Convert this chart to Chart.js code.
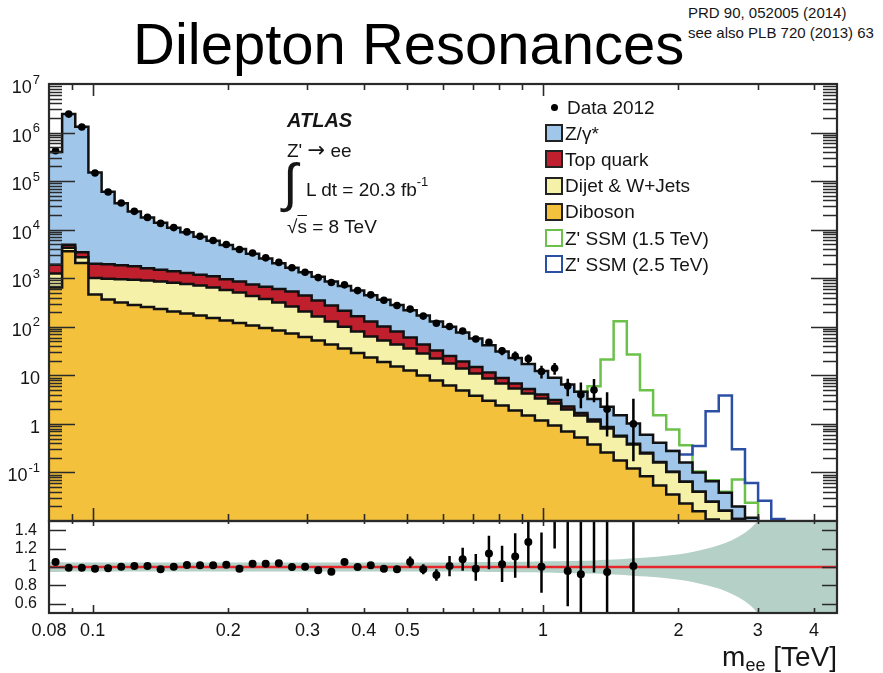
<!DOCTYPE html>
<html>
<head>
<meta charset="utf-8">
<title>Dilepton Resonances</title>
<script src="https://cdn.jsdelivr.net/npm/chart.js@4.4.1/dist/chart.umd.min.js"></script>
<style>
  html, body { margin: 0; padding: 0; background: #fff; }
  #page { position: relative; width: 883px; height: 673px; overflow: hidden;
          font-family: "Liberation Sans", Arial, Helvetica, sans-serif; color: #151515; }
  #page canvas { position: absolute; left: 0; }
  #main_chart { top: 0; }
  #ratio_chart { top: 500px; }
  .txt { position: absolute; white-space: nowrap; line-height: 1; }
  .sup { position: relative; font-size: 13px; top: -10px; }
  .sub { position: relative; font-size: 18px; top: 5px; }
  .arrow { font-family: "DejaVu Sans", sans-serif; font-size: 21px; }
  #title { left: 133px; top: 15px; font-size: 58px; color: #000; }
  #ref { left: 688px; top: 3px; font-size: 15px; line-height: 20px; }
  #atlas { left: 287px; top: 110px; font-size: 20px; font-weight: bold; font-style: italic; }
  #channel { left: 287px; top: 140px; font-size: 19px; }
  #integral { left: 283px; top: 156px; font-size: 53px; }
  #lumi { left: 306px; top: 180px; font-size: 19px; }
  #energy { left: 287px; top: 217px; font-size: 19px; }
  #x_title { right: 46px; top: 643px; font-size: 28px; }
  .leg_row { position: absolute; left: 545px; height: 20px; display: flex; align-items: center; }
  .leg_box { box-sizing: border-box; width: 18px; height: 18px; border: 2.5px solid #222; }
  .leg_mark { width: 18px; height: 18px; display: flex; align-items: center; justify-content: center; }
  .leg_mark span { width: 7px; height: 7px; border-radius: 50%; background: #000; }
  .leg_text { margin-left: 2px; font-size: 19px; line-height: 1; }
</style>
</head>
<body>
<div id="page">
  <div id="title" class="txt">Dilepton Resonances</div>
  <div id="ref" class="txt">PRD 90, 052005 (2014)<br>see also PLB 720 (2013) 63</div>
  <canvas id="main_chart" width="883" height="530"></canvas>
  <canvas id="ratio_chart" width="883" height="173"></canvas>
  <div id="atlas" class="txt">ATLAS</div>
  <div id="channel" class="txt">Z' <span class="arrow">→</span> ee</div>
  <div id="integral" class="txt">∫</div>
  <div id="lumi" class="txt">L dt = 20.3 fb<span class="sup">-1</span></div>
  <div id="energy" class="txt">√<span style="text-decoration: overline">s</span> = 8 TeV</div>
  <div id="legend"></div>
  <div id="x_title" class="txt">m<span class="sub">ee</span> [TeV]</div>
</div>
<script>
// mass binning in TeV, 60 log-uniform bins
const BIN_EDGES = [0.08, 0.08556, 0.0915, 0.09786, 0.1047, 0.1119, 0.1197, 0.128, 0.1369, 0.1464,
  0.1566, 0.1675, 0.1791, 0.1915, 0.2049, 0.2191, 0.2343, 0.2506, 0.268, 0.2866,
  0.3065, 0.3278, 0.3506, 0.3749, 0.401, 0.4288, 0.4586, 0.4904, 0.5245, 0.5609,
  0.5999, 0.6416, 0.6861, 0.7338, 0.7848, 0.8393, 0.8976, 0.9599, 1.027, 1.098,
  1.174, 1.256, 1.343, 1.436, 1.536, 1.643, 1.757, 1.879, 2.009, 2.149,
  2.298, 2.458, 2.629, 2.811, 3.006, 3.215, 3.439, 3.677, 3.933, 4.206, 4.498];

// background expectation per bin (events)
const ZGAMMA = [398000, 2415000, 1307000, 148000, 58500, 33300, 21800, 16100, 12300, 9610,
  7540, 6000, 4800, 3880, 3130, 2460, 1870, 1440, 1110, 881,
  724, 588, 477, 390, 319, 258, 202, 159, 127, 96.6,
  75, 56.7, 42.7, 30.3, 22.1, 16.1, 11.8, 8.27, 5.8, 4.18,
  2.89, 2.01, 1.40, 0.934, 0.629, 0.347, 0.246, 0.172, 0.095, 0.060,
  0.041, 0.022, 0.0089, 0.0041, 0.002, 0.001, 0, 0, 0, 0];
const TOP_QUARK = [660, 644, 695, 982, 969, 902, 823, 721, 652, 576,
  517, 481, 453, 389, 345, 311, 299, 282, 270, 233,
  184, 145, 114, 86, 65, 49, 37, 24.4, 15.0, 10.2,
  7.5, 5.4, 3.9, 2.8, 2.0, 1.43, 1.0, 0.70, 0.47, 0.30,
  0.19, 0.11, 0.059, 0.026, 0.014, 0.0071, 0.0031, 0.0014, 0.0006, 0,
  0, 0, 0, 0, 0, 0, 0, 0, 0, 0];
const DIJET_WJETS = [604, 686, 652, 554, 618, 643, 655, 639, 620, 605,
  570, 535, 490, 435, 387, 322, 278, 231, 188, 145,
  110, 85, 65, 50.8, 39.6, 33.2, 27.8, 23, 18.2, 14.4,
  11.3, 8.9, 7.1, 5.6, 4.4, 3.46, 2.73, 2.16, 1.70, 1.28,
  0.96, 0.74, 0.55, 0.37, 0.256, 0.163, 0.107, 0.067, 0.041, 0.024,
  0.014, 0.0088, 0.006, 0.0046, 0, 0, 0, 0, 0, 0];
const DIBOSON = [641, 3580, 2065, 460, 363, 315, 280, 254, 231, 206,
  187, 170, 151, 134, 119, 106, 94, 83.5, 72.5, 61.4,
  52, 43, 35.6, 28.8, 23.2, 18.8, 15.2, 12.6, 9.9, 7.8,
  6.2, 4.9, 3.8, 3.0, 2.4, 1.89, 1.49, 1.17, 0.93, 0.70,
  0.525, 0.377, 0.258, 0.177, 0.121, 0.083, 0.054, 0.035, 0.023, 0.0158,
  0.0108, 0.0074, 0.005, 0.003, 0, 0, 0, 0, 0, 0];

// Z' SSM signal yields, stacked on the background; arrays start at the given bin
const SSM_15_FIRST_BIN = 40;
const SSM_15 = [0, 2.73, 18.8, 128.5, 25.8, 4.34, 1.10, 0.495, 0.205, 0.005,
  0.003, 0.002, 0.052, 0.012, 0, 0, 0, 0, 0, 0];
const SSM_25_FIRST_BIN = 47;
const SSM_25 = [0, 0.074, 0.25, 1.76, 3.80, 0.28, 0.049, 0.024, 0.010, 0.004, 0, 0, 0];

// observed events
const DATA_2012 = [422000, 2400000, 1300000, 147300, 59650, 35340, 23860, 17890, 13460, 11040,
  9000, 7320, 6000, 4960, 3910, 3315, 2630, 2120, 1640, 1325,
  1031, 817, 730, 556, 455, 353, 275, 231, 166, 118,
  101, 82, 56, 48, 32, 25, 22, 12, 14, 6,
  4, 5, 2, 0, 1, 0, 0, 0, 0, 0,
  0, 0, 0, 0, 0, 0, 0, 0, 0, 0];
const DATA_ERR_FIRST_BIN = 27;
const DATA_LO = [216, 153, 107, 91, 73, 49, 41, 26, 20, 17, 8.6, 10.3, 3.7, 2.1, 2.8, 0.55, null, 0.17];
const DATA_HI = [246, 179, 129, 111, 91, 63, 55, 38, 31, 27, 15.7, 18, 8.5, 7.1, 8.4, 4.5, null, 3.3];

// data / background
const RATIO = [1.055, 0.993, 0.993, 0.982, 0.986, 1.004, 1.011, 1.011, 0.975, 1.004,
  1.022, 1.018, 1.018, 1.025, 0.982, 1.036, 1.036, 1.04, 1.0, 1.004,
  0.964, 0.949, 1.055, 1.0, 1.018, 0.982, 0.975, 1.055, 0.975, 0.913,
  1.011, 1.084, 0.982, 1.146, 1.03, 1.113, 1.273, 1.004, 1.57, 0.956,
  0.92, 1.54, 0.945, null, 1.01];
const RATIO_ERR_FIRST_BIN = 27;
const RATIO_LO = [0.995, 0.92, 0.85, 0.90, 0.96, 0.85, 0.975, 0.836, 0.884, 0.993, 0.72, 1.2, 0.574, 0.45, 0.94, 0.3, null, 0.17];
const RATIO_HI = [1.115, 1.03, 0.975, 1.12, 1.21, 1.14, 1.34, 1.23, 1.368, 1.503, 1.376, 2.0, 1.52, 1.75, 2.6, 2.1, null, 3.3];

// systematic uncertainty band on the background
const SYST_UP = [1.055, 1.05, 1.05, 1.05, 1.048, 1.048, 1.048, 1.048, 1.048, 1.048,
  1.048, 1.048, 1.048, 1.048, 1.048, 1.048, 1.048, 1.048, 1.048, 1.048,
  1.048, 1.048, 1.048, 1.048, 1.048, 1.048, 1.048, 1.048, 1.048, 1.048,
  1.048, 1.05, 1.052, 1.053, 1.055, 1.056, 1.058, 1.06, 1.062, 1.065,
  1.068, 1.072, 1.078, 1.085, 1.094, 1.104, 1.115, 1.13, 1.15, 1.18,
  1.215, 1.26, 1.33, 1.43, 1.6, 1.8, 1.8, 1.8, 1.8, 1.8];
const SYST_DOWN = [0.945, 0.95, 0.95, 0.95, 0.952, 0.952, 0.952, 0.952, 0.952, 0.952,
  0.952, 0.952, 0.952, 0.952, 0.952, 0.952, 0.952, 0.952, 0.952, 0.952,
  0.952, 0.952, 0.952, 0.952, 0.952, 0.952, 0.952, 0.952, 0.952, 0.952,
  0.952, 0.95, 0.948, 0.947, 0.945, 0.944, 0.942, 0.94, 0.938, 0.935,
  0.932, 0.928, 0.922, 0.915, 0.906, 0.896, 0.885, 0.87, 0.85, 0.82,
  0.785, 0.74, 0.67, 0.57, 0.4, 0.2, 0.2, 0.2, 0.2, 0.2];

const X_TICKS = [0.08, 0.1, 0.2, 0.3, 0.4, 0.5, 1, 2, 3, 4];
const X_TICK_LABELS = ['0.08', '0.1', '0.2', '0.3', '0.4', '0.5', '1', '2', '3', '4'];
const X_TICKS_LONG = [0.1, 1];
const X_TICKS_SHORT = [0.09, 0.2, 0.3, 0.4, 0.5, 0.6, 0.7, 0.8, 0.9, 2, 3, 4];
const Y_TICKS = [0.1, 1, 10, 100, 1e3, 1e4, 1e5, 1e6, 1e7];
const Y_TICK_LABELS = ['10^-1', '1', '10', '10^2', '10^3', '10^4', '10^5', '10^6', '10^7'];
const RATIO_TICKS = [0.6, 0.8, 1, 1.2, 1.4];
const RATIO_TICK_LABELS = ['0.6', '0.8', '1', '1.2', '1.4'];

const X_MIN = 0.08, X_MAX = 4.5;
const Y_MIN = 0.01, Y_MAX = 1e7;
const R_MIN = 0.5, R_MAX = 1.5;

const LABELS = ['Data 2012', 'Z/γ*', 'Top quark', 'Dijet & W+Jets', 'Diboson', "Z' SSM (1.5 TeV)", "Z' SSM (2.5 TeV)"];
const COLOR_ZGAMMA = '#a0c7ea';
const COLOR_TOP = '#c0202d';
const COLOR_DIJET = '#f6f1a8';
const COLOR_DIBOSON = '#f3c13b';
const COLOR_SSM_15 = '#6cc14b';
const COLOR_SSM_25 = '#2c4fa6';
const COLOR_BAND = '#b4d0c7';
const COLOR_REF = '#e5262b';
const INK = '#151515';
const FONT = '"Liberation Sans", Arial, Helvetica, sans-serif';

Chart.defaults.font.family = FONT;
Chart.defaults.color = INK;

const centers = BIN_EDGES.slice(0, -1).map(function(e, i) {
  return Math.sqrt(e * BIN_EDGES[i + 1]);
});

// empty bins are pushed below the axis so the outline drops off the plot
function shown(v) {
  return v > 0 ? v : Y_MIN / 100;
}

function stepPoints(values, first_bin) {
  first_bin = first_bin || 0;
  const pts = values.map(function(v, i) {
    return {x: BIN_EDGES[first_bin + i], y: shown(v)};
  });
  pts.push({x: BIN_EDGES[first_bin + values.length], y: shown(values[values.length - 1])});
  return pts;
}

function errorBars(lo, hi, first_bin) {
  const pts = [];
  lo.forEach(function(l, i) {
    if (l === null || hi[i] === null) return;
    const c = centers[first_bin + i];
    pts.push({x: c, y: l}, {x: c, y: hi[i]}, {x: c, y: null});
  });
  return pts;
}

// stacked levels, bottom to top
const stack_diboson = DIBOSON.slice();
const stack_dijet = stack_diboson.map(function(v, i) { return v + DIJET_WJETS[i]; });
const stack_top = stack_dijet.map(function(v, i) { return v + TOP_QUARK[i]; });
const stack_total = stack_top.map(function(v, i) { return v + ZGAMMA[i]; });
const ssm_15_level = SSM_15.map(function(s, i) { return stack_total[SSM_15_FIRST_BIN + i] + s; });
const ssm_25_level = SSM_25.map(function(s, i) { return stack_total[SSM_25_FIRST_BIN + i] + s; });

// inward ticks on all four sides plus the frame, ROOT style
const frame_plugin = {
  id: 'frameTicks',
  afterDatasetsDraw(chart, args, o) {
    const ctx = chart.ctx;
    const a = chart.chartArea;
    const xs = chart.scales.x;
    const ys = chart.scales.y;
    ctx.save();
    ctx.strokeStyle = '#2a2a2a';
    ctx.lineWidth = 1.6;
    ctx.beginPath();
    function xTick(v, k) {
      const px = Math.round(xs.getPixelForValue(v)) + 0.5;
      if (o.bottom) { ctx.moveTo(px, a.bottom); ctx.lineTo(px, a.bottom - o.bottom[k]); }
      if (o.top) { ctx.moveTo(px, a.top); ctx.lineTo(px, a.top + o.top[k]); }
    }
    function yTick(v, k) {
      const py = Math.round(ys.getPixelForValue(v)) + 0.5;
      if (o.left) { ctx.moveTo(a.left, py); ctx.lineTo(a.left + o.left[k], py); }
      if (o.right) { ctx.moveTo(a.right, py); ctx.lineTo(a.right - o.right[k], py); }
    }
    X_TICKS_LONG.forEach(function(v) { xTick(v, 0); });
    X_TICKS_SHORT.forEach(function(v) { xTick(v, 1); });
    o.yLong.forEach(function(v) { yTick(v, 0); });
    o.yShort.forEach(function(v) { yTick(v, 1); });
    ctx.stroke();
    ctx.lineWidth = 2.2;
    ctx.strokeRect(a.left, a.top, a.right - a.left, a.bottom - a.top);

    if (o.yLabels) {
      ctx.fillStyle = INK;
      ctx.textBaseline = 'middle';
      ctx.textAlign = 'left';
      Y_TICKS.forEach(function(v, i) {
        const parts = Y_TICK_LABELS[i].split('^');
        const py = ys.getPixelForValue(v);
        ctx.font = '13px ' + FONT;
        const ew = parts[1] ? ctx.measureText(parts[1]).width + 1 : 0;
        ctx.font = '18px ' + FONT;
        const bw = ctx.measureText(parts[0]).width;
        const right = a.left - 9;
        ctx.fillText(parts[0], right - ew - bw, py + 4);
        if (parts[1]) {
          ctx.font = '13px ' + FONT;
          ctx.fillText(parts[1], right - ew + 1, py - 4);
        }
      });
    }
    ctx.restore();
  }
};

const main_y_long = [];
const main_y_short = [];
for (let e = -2; e <= 6; e++) {
  if (e > -2) main_y_long.push(Math.pow(10, e));
  for (let k = 2; k <= 9; k++) main_y_short.push(k * Math.pow(10, e));
}

function histo(label, values, fill_color, order) {
  return {
    label: label,
    data: stepPoints(values),
    stepped: true,
    fill: 'start',
    backgroundColor: fill_color,
    borderColor: '#111',
    borderWidth: 2.5,
    pointRadius: 0,
    order: order
  };
}

const main_chart = new Chart(document.querySelector('#main_chart'), {
  type: 'line',
  data: {
    datasets: [
      {
        label: LABELS[5],
        data: stepPoints(ssm_15_level, SSM_15_FIRST_BIN),
        stepped: true, fill: false,
        borderColor: COLOR_SSM_15, borderWidth: 2.5, pointRadius: 0,
        order: 11
      },
      {
        label: LABELS[6],
        data: stepPoints(ssm_25_level, SSM_25_FIRST_BIN),
        stepped: true, fill: false,
        borderColor: COLOR_SSM_25, borderWidth: 2.5, pointRadius: 0,
        order: 10
      },
      histo(LABELS[1], stack_total, COLOR_ZGAMMA, 4),
      histo(LABELS[2], stack_top, COLOR_TOP, 3),
      histo(LABELS[3], stack_dijet, COLOR_DIJET, 2),
      histo(LABELS[4], stack_diboson, COLOR_DIBOSON, 1),
      {
        label: 'data errors',
        data: errorBars(DATA_LO, DATA_HI, DATA_ERR_FIRST_BIN),
        borderColor: '#000', borderWidth: 2.5, pointRadius: 0, fill: false,
        order: -1
      },
      {
        label: LABELS[0],
        data: centers.map(function(c, i) {
          return {x: c, y: DATA_2012[i] > 0 ? DATA_2012[i] : null};
        }),
        showLine: false,
        pointRadius: 3.8, pointBackgroundColor: '#000', pointBorderWidth: 0,
        order: -2
      }
    ]
  },
  options: {
    responsive: false,
    devicePixelRatio: 1,
    animation: false,
    events: [],
    layout: {padding: {left: 49, right: 46, top: 84, bottom: 9}},
    plugins: {
      legend: {display: false},
      tooltip: {enabled: false},
      frameTicks: {top: [12, 6], bottom: [13, 7], left: [26, 13], right: [26, 14],
                   yLong: main_y_long, yShort: main_y_short, yLabels: true}
    },
    scales: {
      x: {type: 'logarithmic', min: X_MIN, max: X_MAX, display: false},
      y: {type: 'logarithmic', min: Y_MIN, max: Y_MAX, display: false}
    }
  },
  plugins: [frame_plugin]
});

function bandPoints(values) {
  const pts = [{x: BIN_EDGES[0], y: values[0]}];
  centers.forEach(function(c, i) { pts.push({x: c, y: values[i]}); });
  pts.push({x: BIN_EDGES[BIN_EDGES.length - 1], y: values[values.length - 1]});
  return pts;
}

const ratio_chart = new Chart(document.querySelector('#ratio_chart'), {
  type: 'line',
  data: {
    datasets: [
      {
        label: 'syst up',
        data: bandPoints(SYST_UP),
        fill: 1, backgroundColor: COLOR_BAND,
        borderWidth: 0, pointRadius: 0,
        cubicInterpolationMode: 'monotone',
        order: 6
      },
      {
        label: 'syst down',
        data: bandPoints(SYST_DOWN),
        fill: false, borderWidth: 0, pointRadius: 0,
        cubicInterpolationMode: 'monotone',
        order: 7
      },
      {
        label: 'unity',
        data: [{x: X_MIN, y: 1}, {x: X_MAX, y: 1}],
        borderColor: COLOR_REF, borderWidth: 2.5, pointRadius: 0, fill: false,
        order: 3
      },
      {
        label: 'ratio errors',
        data: errorBars(RATIO_LO, RATIO_HI, RATIO_ERR_FIRST_BIN),
        borderColor: '#000', borderWidth: 2.5, pointRadius: 0, fill: false,
        clip: 0,
        order: 2
      },
      {
        label: 'ratio',
        data: RATIO.map(function(r, i) { return {x: centers[i], y: r}; }),
        showLine: false,
        pointRadius: 4, pointBackgroundColor: '#000', pointBorderWidth: 0,
        clip: 0,
        order: 1
      }
    ]
  },
  options: {
    responsive: false,
    devicePixelRatio: 1,
    animation: false,
    events: [],
    layout: {padding: {left: 0, right: 46, top: 21, bottom: 0}},
    plugins: {
      legend: {display: false},
      tooltip: {enabled: false},
      frameTicks: {top: [5, 3], bottom: [8, 5], left: [17, 17], right: [15, 15],
                   yLong: RATIO_TICKS, yShort: [], yLabels: false}
    },
    scales: {
      x: {
        type: 'logarithmic', min: X_MIN, max: X_MAX,
        afterBuildTicks: function(s) { s.ticks = X_TICKS.map(function(v) { return {value: v}; }); },
        afterFit: function(s) { s.height = 60; },
        grid: {display: false},
        border: {display: false},
        ticks: {
          autoSkip: false, maxRotation: 0, padding: -1, color: INK,
          font: {size: 18},
          callback: function(v, i) { return X_TICK_LABELS[i]; }
        }
      },
      y: {
        type: 'linear', min: R_MIN, max: R_MAX,
        afterBuildTicks: function(s) { s.ticks = RATIO_TICKS.map(function(v) { return {value: v}; }); },
        afterFit: function(s) { s.width = 49; },
        grid: {display: false},
        border: {display: false},
        ticks: {
          padding: 4, color: INK,
          font: {size: 16},
          callback: function(v, i) { return RATIO_TICK_LABELS[i]; }
        }
      }
    }
  },
  plugins: [frame_plugin]
});

// legend, built from the main chart datasets
const legend_el = document.querySelector('#legend');
const legend_items = [
  {label: LABELS[0], marker: true},
  {label: LABELS[1], fill: COLOR_ZGAMMA, edge: '#222'},
  {label: LABELS[2], fill: COLOR_TOP, edge: '#222'},
  {label: LABELS[3], fill: COLOR_DIJET, edge: '#222'},
  {label: LABELS[4], fill: COLOR_DIBOSON, edge: '#222'},
  {label: LABELS[5], fill: '#fff', edge: COLOR_SSM_15},
  {label: LABELS[6], fill: '#fff', edge: COLOR_SSM_25}
];
legend_items.forEach(function(item, i) {
  const row = document.createElement('div');
  row.className = 'leg_row';
  row.style.top = (107 + i * 26.2 - 10) + 'px';
  const sw = document.createElement('div');
  if (item.marker) {
    sw.className = 'leg_mark';
    sw.appendChild(document.createElement('span'));
  } else {
    sw.className = 'leg_box';
    sw.style.background = item.fill;
    sw.style.borderColor = item.edge;
  }
  const tx = document.createElement('div');
  tx.className = 'leg_text';
  tx.textContent = item.label;
  if (item.marker) tx.style.marginLeft = '4px';
  row.appendChild(sw);
  row.appendChild(tx);
  legend_el.appendChild(row);
});
</script>
</body>
</html>
